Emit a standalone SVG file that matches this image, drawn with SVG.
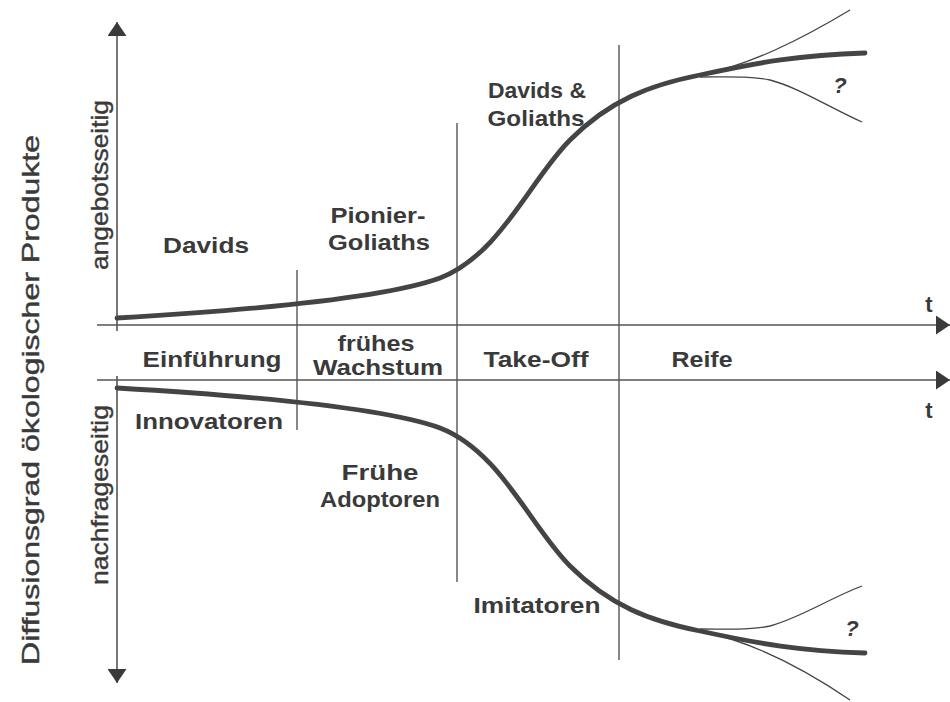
<svg xmlns="http://www.w3.org/2000/svg" width="950" height="702" viewBox="0 0 950 702">
<style>
.lbl{font-family:"Liberation Sans",Arial,sans-serif;font-weight:bold;font-size:22px;fill:#3a3a3a;text-anchor:middle}
.vl{font-family:"Liberation Sans",Arial,sans-serif;font-size:24px;fill:#3a3a3a;stroke:#3a3a3a;stroke-width:0.4;text-anchor:middle}
.ax{stroke:#555;stroke-width:1.6;fill:none}
.div{stroke:#555;stroke-width:1.4;fill:none}
.main{stroke:#444;stroke-width:4.8;fill:none;stroke-linecap:round}
.thin{stroke:#444;stroke-width:1.3;fill:none}
</style>
<defs>
<marker id="ah" viewBox="0 0 14 19" refX="14" refY="9.5" markerWidth="14" markerHeight="19" markerUnits="userSpaceOnUse" orient="auto">
<path d="M0,0 L14,9.5 L0,19 Z" fill="#3a3a3a"/>
</marker>
</defs>
<rect width="950" height="702" fill="#fff"/>
<g id="axes">
<line class="ax" x1="117" y1="331" x2="117" y2="22" marker-end="url(#ah)"/>
<line class="ax" x1="117" y1="376" x2="117" y2="683" marker-end="url(#ah)"/>
<line class="ax" x1="97" y1="325" x2="950" y2="325" marker-end="url(#ah)"/>
<line class="ax" x1="97" y1="380" x2="950" y2="380" marker-end="url(#ah)"/>
</g>
<g id="dividers">
<line class="div" x1="297" y1="270" x2="297" y2="430"/>
<line class="div" x1="457" y1="123" x2="457" y2="582"/>
<line class="div" x1="619" y1="45" x2="619" y2="660"/>
</g>
<g id="connectors">
<path class="main" d="M117,318 C220,312 380,300 440,278 C500,255 530,180 570,140 C610,100 650,85 700,75 C760,62 800,55 865,53"/>
<path class="thin" d="M700,75 C750,65 800,40 850,10"/>
<path class="thin" d="M700,77 C730,77 750,76 770,80 C800,88 830,108 862,122"/>
<path class="main" d="M117,388 C220,394 380,406 440,428 C500,451 530,526 570,566 C610,606 650,621 700,631 C760,644 800,651 865,653"/>
<path class="thin" d="M700,631 C750,641 800,666 850,700"/>
<path class="thin" d="M700,629 C730,629 750,630 770,626 C800,618 830,598 862,586"/>
</g>
<g id="labels-upper">
<text class="lbl" x="206" y="253" textLength="86" lengthAdjust="spacingAndGlyphs">Davids</text>
<text class="lbl" x="378" y="223" textLength="95" lengthAdjust="spacingAndGlyphs">Pionier-</text>
<text class="lbl" x="379" y="250" textLength="102" lengthAdjust="spacingAndGlyphs">Goliaths</text>
<text class="lbl" x="537" y="98" textLength="98" lengthAdjust="spacingAndGlyphs">Davids &amp;</text>
<text class="lbl" x="536" y="126" textLength="97" lengthAdjust="spacingAndGlyphs">Goliaths</text>
<text class="lbl" x="840" y="93" font-style="italic">?</text>
<text class="lbl" x="929" y="312">t</text>
</g>
<g id="labels-phases">
<text class="lbl" x="212" y="367" textLength="139" lengthAdjust="spacingAndGlyphs">Einführung</text>
<text class="lbl" x="376" y="351" textLength="77" lengthAdjust="spacingAndGlyphs">frühes</text>
<text class="lbl" x="378" y="375" textLength="130" lengthAdjust="spacingAndGlyphs">Wachstum</text>
<text class="lbl" x="536" y="367" textLength="105" lengthAdjust="spacingAndGlyphs">Take-Off</text>
<text class="lbl" x="702" y="367" textLength="61" lengthAdjust="spacingAndGlyphs">Reife</text>
</g>
<g id="labels-lower">
<text class="lbl" x="929" y="418">t</text>
<text class="lbl" x="209" y="429" textLength="148" lengthAdjust="spacingAndGlyphs">Innovatoren</text>
<text class="lbl" x="380" y="480" textLength="77" lengthAdjust="spacingAndGlyphs">Frühe</text>
<text class="lbl" x="380" y="507" textLength="120" lengthAdjust="spacingAndGlyphs">Adoptoren</text>
<text class="lbl" x="537" y="613" textLength="127" lengthAdjust="spacingAndGlyphs">Imitatoren</text>
<text class="lbl" x="852" y="636" font-style="italic">?</text>
</g>
<g id="labels-vertical">
<text class="vl" transform="translate(39,400) rotate(-90)" textLength="530" lengthAdjust="spacingAndGlyphs">Diffusionsgrad ökologischer Produkte</text>
<text class="vl" transform="translate(108,185) rotate(-90)" textLength="170" lengthAdjust="spacingAndGlyphs">angebotsseitig</text>
<text class="vl" transform="translate(108,495) rotate(-90)" textLength="180" lengthAdjust="spacingAndGlyphs">nachfrageseitig</text>
</g>
</svg>
